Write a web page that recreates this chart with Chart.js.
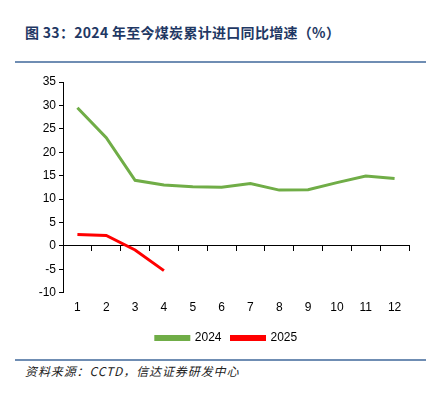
<!DOCTYPE html>
<html>
<head>
<meta charset="utf-8">
<script src="https://cdn.jsdelivr.net/npm/chart.js@4"></script>
<style>
  body { margin: 0; width: 434px; height: 394px; background: #fff; position: relative; overflow: hidden; }
  .title { position: absolute; left: 25px; top: 22px; font: bold 14px "Noto Sans CJK SC", sans-serif; color: #1f3864; white-space: nowrap; letter-spacing: 0.3px; }
  .rule { position: absolute; left: 15px; width: 411px; height: 2px; background: #6f8db3; }
  .source { position: absolute; left: 25px; top: 362px; font: italic 12px "Noto Sans CJK SC", sans-serif; color: #222; white-space: nowrap; letter-spacing: 0.9px; }
  #wrap { position: absolute; left: 0; top: 64px; width: 434px; height: 292px; }
</style>
</head>
<body>
<div class="title">图 33：2024 年至今煤炭累计进口同比增速（%）</div>
<div class="rule" style="top:61px"></div>
<div id="wrap"><canvas id="chart"></canvas></div>
<div class="rule" style="top:359px"></div>
<div class="source">资料来源：CCTD，信达证券研发中心</div>
<script>
// months and yearly cumulative import growth (%)
const months = ['1', '2', '3', '4', '5', '6', '7', '8', '9', '10', '11', '12'];
const growth2024 = [29.5, 23.1, 14.0, 13.0, 12.6, 12.5, 13.3, 11.9, 12.0, 13.5, 14.9, 14.4];
const growth2025 = [2.4, 2.2, -0.9, -5.3];
const yTicks = { min: -10, max: 35, step: 5 };

const font = { family: 'Liberation Sans, Arial, sans-serif', size: 12 };

// nudge the legend a bit right, like the original
const legendShift = {
    id: 'legendShift',
    afterLayout(chart) {
        chart.legend.left += 17;
        chart.legend.right += 17;
    }
};

new Chart(document.getElementById('chart'), {
    type: 'line',
    data: {
        labels: months,
        datasets: [
            { label: '2024', data: growth2024, borderColor: '#70ad47', backgroundColor: '#70ad47', borderWidth: 3, pointRadius: 0, tension: 0 },
            { label: '2025', data: growth2025, borderColor: '#ff0000', backgroundColor: '#ff0000', borderWidth: 3, pointRadius: 0, tension: 0 }
        ]
    },
    options: {
        responsive: true,
        maintainAspectRatio: false,
        animation: false,
        layout: { padding: { left: 10, right: 25, top: 18, bottom: 2 } },
        plugins: {
            legend: {
                position: 'bottom',
                labels: { boxWidth: 33, boxHeight: 3, color: '#000', font: font, padding: 10 }
            },
            tooltip: { enabled: false }
        },
        scales: {
            x: {
                type: 'category',
                offset: true,
                position: { y: 0 },
                grid: { display: true, drawOnChartArea: false, drawTicks: true, tickLength: 5, color: '#000', offset: true },
                border: { display: true, color: '#000', width: 1 },
                ticks: { display: false }
            },
            x2: {
                type: 'category',
                labels: months,
                offset: true,
                position: 'bottom',
                grid: { display: false },
                border: { display: false },
                ticks: { color: '#000', font: font, padding: 0, maxRotation: 0 },
                afterFit: function(scale) { scale.height += 7; }
            },
            y: {
                min: yTicks.min,
                max: yTicks.max,
                grid: { display: true, drawOnChartArea: false, drawTicks: true, tickLength: 4, color: '#000' },
                border: { display: true, color: '#000', width: 1 },
                ticks: { stepSize: yTicks.step, color: '#000', font: font, padding: 3 },
                afterFit: function(scale) { scale.width = 53; }
            }
        }
    },
    plugins: [legendShift]
});
</script>
</body>
</html>
